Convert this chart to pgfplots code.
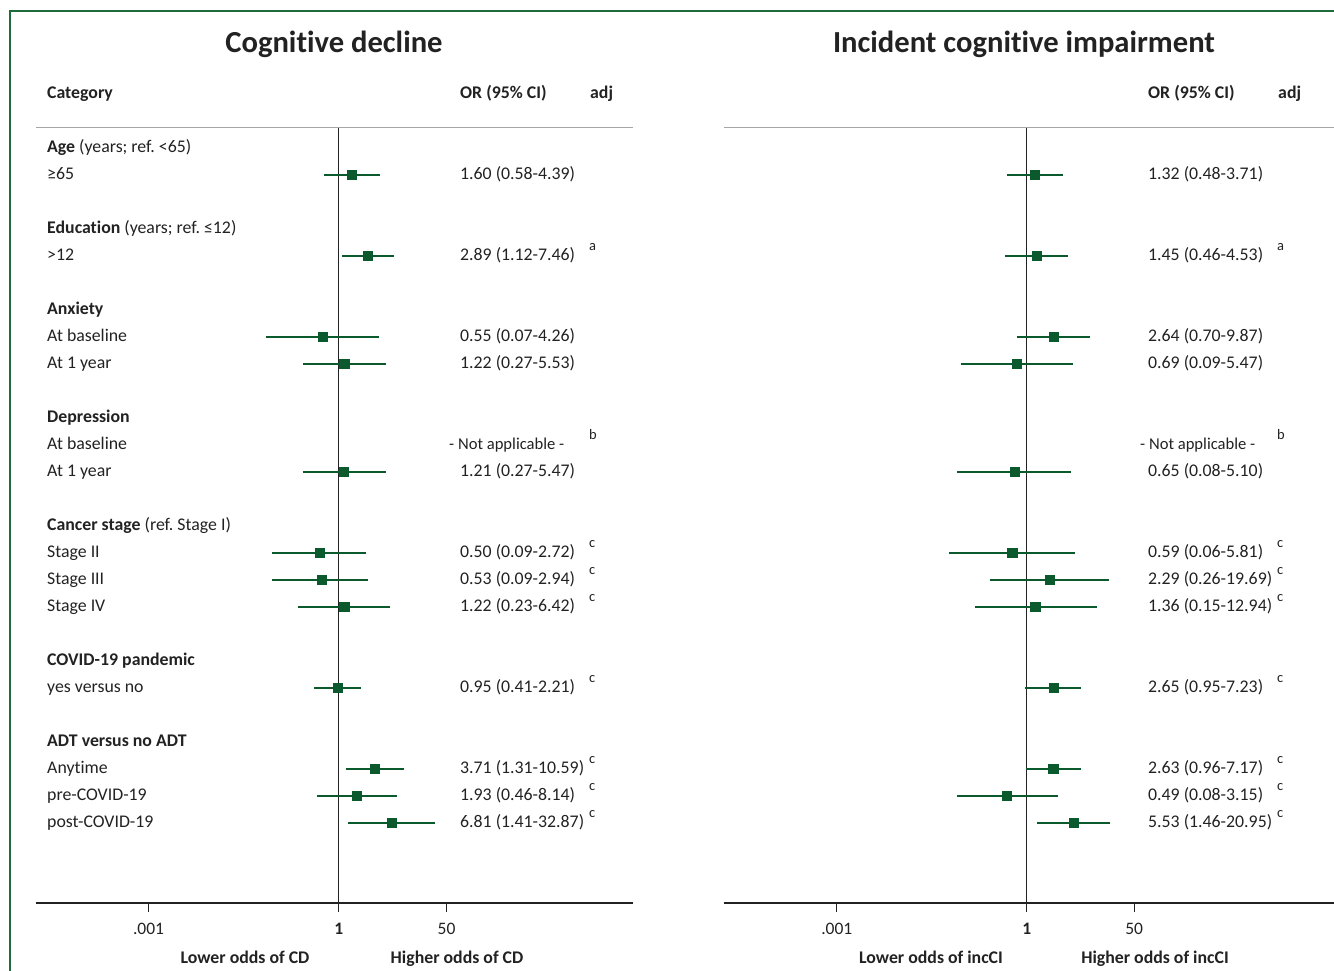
\documentclass[border=0pt]{standalone}
\usepackage{pgfplots}
\pgfplotsset{compat=1.18}
\usepackage{fontspec}
\setmainfont{Carlito}[Ligatures=NoCommon]
\frenchspacing
\definecolor{fgreen}{HTML}{0B5A2D}
\definecolor{frame}{HTML}{1E6B3C}
\definecolor{txt}{HTML}{222222}
\newcommand\fs{\fontsize{17.8}{20}\selectfont}
\newcommand\sfs{\fontsize{14.5}{16}\selectfont}
% text at row k (baseline)
\newcommand\T[3]{\node[anchor=base west,inner sep=0pt,text=txt,font=\fs] at ({#1pt},{(845-27*#2)*1pt}) {#3};}
% superscript at row k
\newcommand\Sup[3]{\node[anchor=base west,inner sep=0pt,text=txt,font=\sfs] at ({#1pt},{(855-27*#2)*1pt}) {#3};}

\pgfplotstableread{
y or
-2 1.60
-5 2.89
-8 0.55
-9 1.22
-13 1.21
-16 0.50
-17 0.53
-18 1.22
-21 0.95
-24 3.71
-25 1.93
-26 6.81
}\cdor
\pgfplotstableread{
y or
-2 1.32
-5 1.45
-8 2.64
-9 0.69
-13 0.65
-16 0.59
-17 2.29
-18 1.36
-21 2.65
-24 2.63
-25 0.49
-26 5.53
}\cior

\begin{document}
\begin{tikzpicture}
\useasboundingbox (0pt,0pt) rectangle (1334pt,971pt);
\draw[frame, line width=2.5pt] (10pt,0pt) -- (10pt,960pt) -- (1334pt,960pt);

% ---------- left panel ----------
\begin{axis}[scale only axis, height=775pt, xmode=log,
  ymin=-28.963, ymax=-0.259,
  axis x line*=bottom, axis y line=none,
  axis line style={-, txt, line width=1.2pt},
  tick align=outside, xtick={0.001,1,50}, xticklabels={.001,\textbf{1},50},
  xminorticks=false, major tick length=9pt,
  xtick style={txt, line width=1.2pt},
  xticklabel style={font=\fontsize{17.5}{19}\selectfont, text=txt, yshift=-8pt},
  ytick=\empty, clip=false,
  at={(35.8pt,68pt)}, anchor=south west, width=596.8pt,
  xmin=1.663e-5, xmax=4.305e4]
\addplot[gray!70, line width=1pt] coordinates {(1.663e-5,-0.259) (4.305e4,-0.259)};
\addplot[txt, line width=1.3pt] coordinates {(1,-0.259) (1,-28.963)};
\addplot[fgreen, line width=2.8pt, unbounded coords=jump] coordinates {
(0.58,-2) (4.39,-2) (nan,nan)
(1.12,-5) (7.46,-5) (nan,nan)
(0.07,-8) (4.26,-8) (nan,nan)
(0.27,-9) (5.53,-9) (nan,nan)
(0.27,-13) (5.47,-13) (nan,nan)
(0.09,-16) (2.72,-16) (nan,nan)
(0.09,-17) (2.94,-17) (nan,nan)
(0.23,-18) (6.42,-18) (nan,nan)
(0.41,-21) (2.21,-21) (nan,nan)
(1.31,-24) (10.59,-24) (nan,nan)
(0.46,-25) (8.14,-25) (nan,nan)
(1.41,-26) (32.87,-26)
};
\addplot[only marks, mark=square*, mark size=4.6pt, fgreen] table[x=or,y=y] {\cdor};
\end{axis}

% ---------- right panel ----------
\begin{axis}[scale only axis, height=775pt, xmode=log,
  ymin=-28.963, ymax=-0.259,
  axis x line*=bottom, axis y line=none,
  axis line style={-, txt, line width=1.2pt},
  tick align=outside, xtick={0.001,1,50}, xticklabels={.001,\textbf{1},50},
  xminorticks=false, major tick length=9pt,
  xtick style={txt, line width=1.2pt},
  xticklabel style={font=\fontsize{17.5}{19}\selectfont, text=txt, yshift=-8pt},
  ytick=\empty, clip=false,
  at={(723.5pt,68pt)}, anchor=south west, width=610.5pt,
  xmin=1.622e-5, xmax=7.16e4]
\addplot[gray!70, line width=1pt] coordinates {(1.622e-5,-0.259) (7.16e4,-0.259)};
\addplot[txt, line width=1.3pt] coordinates {(1,-0.259) (1,-28.963)};
\addplot[fgreen, line width=2.8pt, unbounded coords=jump] coordinates {
(0.48,-2) (3.71,-2) (nan,nan)
(0.46,-5) (4.53,-5) (nan,nan)
(0.70,-8) (9.87,-8) (nan,nan)
(0.09,-9) (5.47,-9) (nan,nan)
(0.08,-13) (5.10,-13) (nan,nan)
(0.06,-16) (5.81,-16) (nan,nan)
(0.26,-17) (19.69,-17) (nan,nan)
(0.15,-18) (12.94,-18) (nan,nan)
(0.95,-21) (7.23,-21) (nan,nan)
(0.96,-24) (7.17,-24) (nan,nan)
(0.08,-25) (3.15,-25) (nan,nan)
(1.46,-26) (20.95,-26)
};
\addplot[only marks, mark=square*, mark size=4.6pt, fgreen] table[x=or,y=y] {\cior};
\end{axis}

% ---------- titles and headers ----------
\node[anchor=base,inner sep=0pt,text=txt,font=\fontsize{30.6}{34}\selectfont\bfseries] at (334pt,918pt) {Cognitive decline};
\node[anchor=base,inner sep=0pt,text=txt,font=\fontsize{30.6}{34}\selectfont\bfseries] at (1024pt,918pt) {Incident cognitive impairment};
\node[anchor=base west,inner sep=0pt,text=txt,font=\fs\bfseries] at (47pt,872pt) {Category};
\node[anchor=base west,inner sep=0pt,text=txt,font=\fs\bfseries] at (460pt,872pt) {OR (95\% CI)};
\node[anchor=base west,inner sep=0pt,text=txt,font=\fs\bfseries] at (590pt,872pt) {adj};
\node[anchor=base west,inner sep=0pt,text=txt,font=\fs\bfseries] at (1148pt,872pt) {OR (95\% CI)};
\node[anchor=base west,inner sep=0pt,text=txt,font=\fs\bfseries] at (1278pt,872pt) {adj};

% ---------- category labels ----------
\T{47}{1}{\textbf{Age} (years; ref. <65)}
\T{47}{2}{≥65}
\T{47}{4}{\textbf{Education} (years; ref. ≤12)}
\T{47}{5}{>12}
\T{47}{7}{\textbf{Anxiety}}
\T{47}{8}{At baseline}
\T{47}{9}{At 1 year}
\T{47}{11}{\textbf{Depression}}
\T{47}{12}{At baseline}
\T{47}{13}{At 1 year}
\T{47}{15}{\textbf{Cancer stage} (ref. Stage I)}
\T{47}{16}{Stage II}
\T{47}{17}{Stage III}
\T{47}{18}{Stage IV}
\T{47}{20}{\textbf{COVID-19 pandemic}}
\T{47}{21}{yes versus no}
\T{47}{23}{\textbf{ADT versus no ADT}}
\T{47}{24}{Anytime}
\T{47}{25}{pre-COVID-19}
\T{47}{26}{post-COVID-19}

% ---------- left OR text ----------
\T{460}{2}{1.60 (0.58-4.39)}
\T{460}{5}{2.89 (1.12-7.46)}
\T{460}{8}{0.55 (0.07-4.26)}
\T{460}{9}{1.22 (0.27-5.53)}
\node[anchor=base west,inner sep=0pt,text=txt,font=\fontsize{16.6}{18}\selectfont] at ({449pt},{(845-27*12)*1pt}) {- Not applicable -};
\T{460}{13}{1.21 (0.27-5.47)}
\T{460}{16}{0.50 (0.09-2.72)}
\T{460}{17}{0.53 (0.09-2.94)}
\T{460}{18}{1.22 (0.23-6.42)}
\T{460}{21}{0.95 (0.41-2.21)}
\T{460}{24}{3.71 (1.31-10.59)}
\T{460}{25}{1.93 (0.46-8.14)}
\T{460}{26}{6.81 (1.41-32.87)}
\Sup{589}{5}{a}
\Sup{589}{12}{b}
\Sup{589}{16}{c}
\Sup{589}{17}{c}
\Sup{589}{18}{c}
\Sup{589}{21}{c}
\Sup{589}{24}{c}
\Sup{589}{25}{c}
\Sup{589}{26}{c}

% ---------- right OR text ----------
\T{1148}{2}{1.32 (0.48-3.71)}
\T{1148}{5}{1.45 (0.46-4.53)}
\T{1148}{8}{2.64 (0.70-9.87)}
\T{1148}{9}{0.69 (0.09-5.47)}
\node[anchor=base west,inner sep=0pt,text=txt,font=\fontsize{16.6}{18}\selectfont] at ({1140pt},{(845-27*12)*1pt}) {- Not applicable -};
\T{1148}{13}{0.65 (0.08-5.10)}
\T{1148}{16}{0.59 (0.06-5.81)}
\T{1148}{17}{2.29 (0.26-19.69)}
\T{1148}{18}{1.36 (0.15-12.94)}
\T{1148}{21}{2.65 (0.95-7.23)}
\T{1148}{24}{2.63 (0.96-7.17)}
\T{1148}{25}{0.49 (0.08-3.15)}
\T{1148}{26}{5.53 (1.46-20.95)}
\Sup{1277}{5}{a}
\Sup{1277}{12}{b}
\Sup{1277}{16}{c}
\Sup{1277}{17}{c}
\Sup{1277}{18}{c}
\Sup{1277}{21}{c}
\Sup{1277}{24}{c}
\Sup{1277}{25}{c}
\Sup{1277}{26}{c}

% ---------- bottom labels ----------
\node[anchor=base,inner sep=0pt,text=txt,font=\fs\bfseries] at (245pt,7pt) {Lower odds of CD};
\node[anchor=base,inner sep=0pt,text=txt,font=\fs\bfseries] at (457pt,7pt) {Higher odds of CD};
\node[anchor=base,inner sep=0pt,text=txt,font=\fs\bfseries] at (931pt,7pt) {Lower odds of incCI};
\node[anchor=base,inner sep=0pt,text=txt,font=\fs\bfseries] at (1155pt,7pt) {Higher odds of incCI};
\end{tikzpicture}
\end{document}
